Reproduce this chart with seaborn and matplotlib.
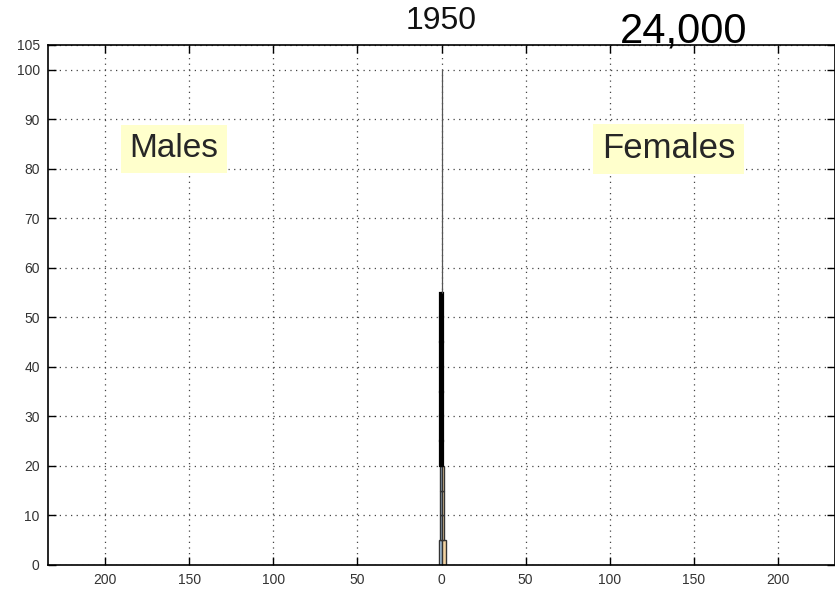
import numpy as np
import pandas as pd
import matplotlib
matplotlib.use("Agg")
import matplotlib.pyplot as plt
import seaborn as sns

# population pyramid, 1950 (thousands)
age_start = [0, 5, 10, 15, 20, 25, 30, 35, 40, 45, 50, 55, 60, 65, 70, 75, 80, 85, 90, 95]
males = [1.5, 1.0, 1.0, 1.0, 0.6, 0.6, 0.6, 0.6, 0.6, 0.6, 0.6, 0, 0, 0, 0, 0, 0, 0, 0, 0]
females = [2.5, 1.5, 1.5, 1.5, 0.6, 0.6, 0.6, 0.6, 0.6, 0.6, 0.6, 0, 0, 0, 0, 0, 0, 0, 0, 0]
x_ticks = [-200, -150, -100, -50, 0, 50, 100, 150, 200]
y_ticks = [0, 10, 20, 30, 40, 50, 60, 70, 80, 90, 100, 105]
year_label = "1950"
total_label = "24,000"

sns.set_theme(style="white")
plt.rcParams["font.family"] = ["Liberation Sans", "DejaVu Sans"]

df = pd.DataFrame({
    "age": [a + 2.5 for a in age_start],
    "males": [-v for v in males],
    "females": females,
})

fig = plt.figure(figsize=(8.35, 5.91), dpi=100)
ax = fig.add_axes([48 / 835, 26 / 591, 787 / 835, 520 / 591])

sns.barplot(data=df, x="males", y="age", orient="h", native_scale=True, width=1,
            color="#aecbe6", saturation=1, edgecolor="#333333", linewidth=1.0,
            errorbar=None, ax=ax)
sns.barplot(data=df, x="females", y="age", orient="h", native_scale=True, width=1,
            color="#f2d3a2", saturation=1, edgecolor="#333333", linewidth=1.0,
            errorbar=None, ax=ax)

# very thin bars read as a solid black line, empty ones as a hairline
for p in ax.patches:
    w = abs(p.get_width())
    if w == 0:
        p.set_edgecolor("#555555")
        p.set_linewidth(0.8)
    elif w < 1:
        p.set_facecolor("black")
        p.set_edgecolor("black")
        p.set_linewidth(1.6)

ax.set_xlim(-234, 234)
ax.set_ylim(0, 105)
ax.set_xticks(x_ticks)
ax.set_xticklabels([str(abs(t)) for t in x_ticks])
ax.set_yticks(y_ticks)
ax.set_yticklabels([str(t) for t in y_ticks])
ax.set_xlabel("")
ax.set_ylabel("")

ax.grid(True, linestyle=(0, (1, 3.5)), color="#444444", linewidth=0.9)
ax.set_axisbelow(True)
ax.tick_params(direction="in", length=6, width=1, color="black",
               top=True, right=True, bottom=True, left=True,
               labelsize=10, labelcolor="#333333", pad=6)
for side in ["left", "bottom", "top", "right"]:
    ax.spines[side].set_color("black")
    ax.spines[side].set_linewidth(1.2)

fig.text(441 / 835, 1 - 21 / 591, year_label, ha="center", va="center",
         fontsize=23, color="#111111")
fig.text(684 / 835, 1 - 43 / 591, total_label, ha="center", va="baseline",
         fontsize=30, color="black")

box = dict(boxstyle="square,pad=0.25", facecolor="#ffffcc", edgecolor="none")
ax.text(-159, 84, "Males", ha="center", va="center", fontsize=24, bbox=box)
ax.text(135, 84, "Females", ha="center", va="center", fontsize=25, bbox=box)

fig.savefig("out.png", dpi=100)
